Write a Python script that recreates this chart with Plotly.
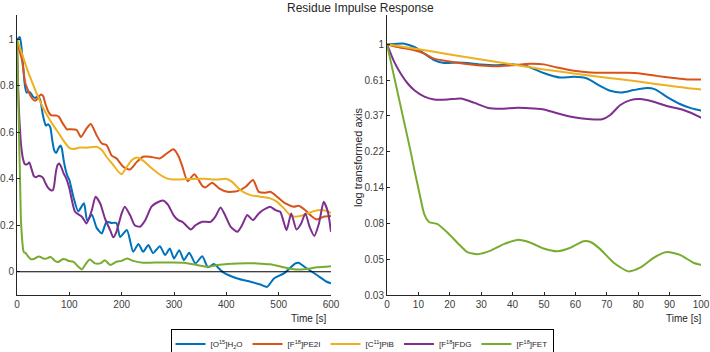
import plotly.graph_objects as go

# ---------------- data (time in s, residue values) ----------------
t_h2o = [0, 2.5, 5.5, 8.7, 11.9, 15, 18.2, 22.4, 25.6, 29.8, 35, 40.4, 44.7, 48.9, 52, 55.2, 59.5, 63.7,
         67.4, 71.1, 74.8, 78.5, 82.8, 85.4, 89.1, 93.3, 97, 100, 108, 117, 128, 134, 143, 152, 162, 171,
         181, 190, 197, 210, 222, 232, 241, 251, 260, 273, 283, 292, 300, 310, 319, 329, 341, 354, 365,
         376, 389, 395, 421, 446, 465, 478, 491, 510, 532, 538, 554, 573, 592, 600]
v_h2o = [1.0, 1.005, 1.01, 0.964, 0.878, 0.803, 0.771, 0.775, 0.771, 0.756, 0.748, 0.756, 0.737, 0.681,
         0.650, 0.629, 0.635, 0.621, 0.566, 0.523, 0.511, 0.528, 0.543, 0.533, 0.481, 0.435, 0.409, 0.396,
         0.32, 0.26, 0.295, 0.22, 0.245, 0.19, 0.165, 0.215, 0.21, 0.21, 0.15, 0.18, 0.086, 0.12, 0.086,
         0.115, 0.08, 0.11, 0.072, 0.10, 0.057, 0.093, 0.05, 0.082, 0.036, 0.067, 0.019, 0.033, 0.007,
         -0.004, -0.029, -0.043, -0.055, -0.065, -0.029, -0.007, 0.036, 0.039, 0.014, -0.014, -0.043, -0.05]

t_pe2i = [0, 4.4, 8.7, 11.9, 15, 19.3, 24.6, 29.8, 35, 40.4, 45.7, 50, 54.2, 59.5, 64.8, 70.1, 76.4, 80.6,
          85.9, 91.2, 95.5, 100, 114, 122, 133, 141, 152, 162, 171, 181, 190, 203, 216, 229, 241, 254, 273,
          286, 299, 308, 315, 326, 339, 354, 360, 373, 386, 402, 421, 437, 451, 462, 475, 484, 497, 513,
          529, 538, 551, 564, 573, 586, 600]
v_pe2i = [1.0, 0.955, 0.920, 0.878, 0.819, 0.790, 0.763, 0.744, 0.736, 0.748, 0.763, 0.756, 0.723, 0.691,
          0.674, 0.672, 0.672, 0.666, 0.644, 0.626, 0.613, 0.613, 0.61, 0.58, 0.617, 0.636, 0.588, 0.552,
          0.545, 0.50, 0.488, 0.452, 0.44, 0.473, 0.495, 0.495, 0.488, 0.509, 0.527, 0.50, 0.46, 0.39,
          0.42, 0.37, 0.363, 0.383, 0.359, 0.344, 0.347, 0.366, 0.395, 0.344, 0.34, 0.344, 0.323, 0.294,
          0.28, 0.284, 0.265, 0.237, 0.225, 0.237, 0.24]

t_pib = [0, 10, 20, 30, 40, 50, 60, 70, 80, 90, 100, 108, 120, 133, 152, 162, 171, 184, 194, 200, 210,
         219, 229, 241, 254, 270, 286, 299, 325, 357, 383, 399, 411, 427, 446, 465, 484, 497, 510, 522,
         532, 548, 567, 586, 600]
v_pib = [1.0, 0.935, 0.868, 0.81, 0.755, 0.705, 0.664, 0.628, 0.595, 0.561, 0.533, 0.528, 0.535, 0.534,
         0.538, 0.524, 0.495, 0.459, 0.43, 0.42, 0.452, 0.48, 0.492, 0.478, 0.452, 0.423, 0.402, 0.397,
         0.399, 0.40, 0.397, 0.40, 0.387, 0.351, 0.33, 0.323, 0.316, 0.301, 0.273, 0.244, 0.237, 0.244,
         0.261, 0.265, 0.254]

t_fdg = [0, 2.3, 4.4, 6.6, 8.7, 11.9, 15, 19.3, 23.5, 27.7, 32, 36.2, 41.5, 46.8, 50, 54.2, 59.5, 64.8,
         68.5, 71.1, 74.3, 77.5, 80.6, 84.9, 89.1, 94.4, 100, 111, 124, 133, 143, 150, 159, 168, 178, 184,
         190, 200, 206, 216, 225, 235, 245, 257, 267, 280, 289, 299, 308, 316, 332, 341, 354, 370, 379,
         389, 399, 408, 421, 430, 440, 451, 462, 472, 484, 494, 503, 515, 524, 534, 543, 551, 559, 568,
         577, 586, 594, 600]
v_fdg = [1.0, 0.783, 0.664, 0.579, 0.527, 0.482, 0.463, 0.463, 0.470, 0.443, 0.413, 0.407, 0.413, 0.409,
         0.403, 0.382, 0.361, 0.351, 0.351, 0.373, 0.429, 0.459, 0.466, 0.449, 0.423, 0.400, 0.36, 0.258,
         0.237, 0.208, 0.265, 0.323, 0.294, 0.23, 0.179, 0.148, 0.172, 0.251, 0.28, 0.244, 0.20, 0.194,
         0.222, 0.28, 0.297, 0.306, 0.287, 0.244, 0.222, 0.215, 0.182, 0.20, 0.215, 0.215, 0.237, 0.277,
         0.237, 0.194, 0.172, 0.20, 0.244, 0.222, 0.251, 0.268, 0.28, 0.265, 0.258, 0.179, 0.251, 0.182,
         0.208, 0.251, 0.194, 0.154, 0.208, 0.301, 0.258, 0.172]

t_fet = [0, 7.4, 8.7, 10.3, 11.9, 13.4, 16.1, 19.3, 22.4, 25.6, 28.8, 33, 37.2, 41.5, 45.7, 49.9, 54.2,
         58.4, 62.6, 64.8, 67.9, 72.2, 76.9, 80.6, 84.9, 89.1, 93.3, 97.6, 100, 108, 117, 124, 130, 139,
         149, 159, 168, 178, 190, 200, 210, 222, 241, 273, 294, 319, 344, 364, 383, 421, 459, 484, 510,
         529, 548, 573, 600]
v_fet = [1.0, 0.230, 0.174, 0.126, 0.093, 0.0837, 0.0813, 0.0721, 0.0627, 0.0550, 0.0534, 0.0561, 0.0614,
         0.0652, 0.0627, 0.0578, 0.0556, 0.0584, 0.0639, 0.0633, 0.0573, 0.0474, 0.0420, 0.0442, 0.0508,
         0.0550, 0.0529, 0.0474, 0.0460, 0.043, 0.022, 0.01, 0.029, 0.053, 0.036, 0.036, 0.05, 0.029,
         0.043, 0.047, 0.057, 0.047, 0.039, 0.04, 0.04, 0.039, 0.029, 0.022, 0.029, 0.036, 0.036, 0.032,
         0.019, 0.011, 0.011, 0.019, 0.024]

series_names = ["[O<sup>15</sup>]H<sub>2</sub>O", "[F<sup>18</sup>]PE2I", "[C<sup>11</sup>]PiB",
                "[F<sup>18</sup>]FDG", "[F<sup>18</sup>]FET"]
series_t = [t_h2o, t_pe2i, t_pib, t_fdg, t_fet]
series_v = [v_h2o, v_pe2i, v_pib, v_fdg, v_fet]
colors = ["#0072BD", "#D95319", "#EDB120", "#7E2F8E", "#77AC30"]

left_yticks = [0, 0.2, 0.4, 0.6, 0.8, 1]
left_xticks = [0, 100, 200, 300, 400, 500, 600]
right_xticks = [0, 10, 20, 30, 40, 50, 60, 70, 80, 90, 100]
right_yticks = [1, 0.6065, 0.3679, 0.2231, 0.1353, 0.0821, 0.0498, 0.0302]
right_yticktext = ["1", "0.61", "0.37", "0.22", "0.14", "0.08", "0.05", "0.03"]

# ---------------- figure ----------------
FONT = "Liberation Sans, Arial, Helvetica, sans-serif"
AX = "#262626"

fig = go.Figure()
for name, t, v, c in zip(series_names, series_t, series_v, colors):
    fig.add_trace(go.Scatter(x=t, y=v, mode="lines", name=name, legendgroup=name,
                             line=dict(color=c, width=2, shape="spline", smoothing=0.6),
                             xaxis="x", yaxis="y"))
for name, t, v, c in zip(series_names, series_t, series_v, colors):
    fig.add_trace(go.Scatter(x=t, y=v, mode="lines", name=name, legendgroup=name, showlegend=False,
                             line=dict(color=c, width=2, shape="spline", smoothing=0.6),
                             xaxis="x2", yaxis="y2"))

ydom = [(352 - 295) / 352, (352 - 15) / 352]
axcommon = dict(showgrid=False, zeroline=False, showline=True, linecolor=AX, linewidth=1,
                ticks="inside", ticklen=3, tickcolor=AX, automargin=False,
                tickfont=dict(family=FONT, size=10, color="#404040"))

fig.update_layout(
    width=710, height=352,
    margin=dict(l=0, r=0, t=0, b=0, autoexpand=False),
    paper_bgcolor="white", plot_bgcolor="white",
    font=dict(family=FONT, size=10, color="#404040"),
    xaxis=dict(domain=[17 / 710, 331 / 710], range=[0, 600], tickvals=left_xticks, anchor="y", **axcommon),
    yaxis=dict(domain=ydom, range=[-0.1, 1.105], tickvals=left_yticks, anchor="x", **axcommon),
    xaxis2=dict(domain=[387 / 710, 701 / 710], range=[0, 100], tickvals=right_xticks, anchor="y2", **axcommon),
    yaxis2=dict(domain=ydom, type="log", range=[-1.52, 0.178], tickvals=right_yticks,
                ticktext=right_yticktext, anchor="x2", **axcommon),
    showlegend=True,
    legend=dict(orientation="h", x=362 / 710, xanchor="center", y=(352 - 344) / 352, yanchor="middle",
                bordercolor="#000000", borderwidth=1, bgcolor="white",
                font=dict(family=FONT, size=8, color="#262626"), itemwidth=30,
                tracegroupgap=0),
)

# zero line in left panel
fig.add_shape(type="line", xref="x", yref="y", x0=0, x1=600, y0=0, y1=0,
              line=dict(color="#000000", width=1))

# title and labels
fig.add_annotation(text="Residue Impulse Response", xref="paper", yref="paper", x=360 / 710,
                   y=(352 - 8) / 352, showarrow=False, xanchor="center", yanchor="middle",
                   font=dict(family=FONT, size=12, color="#262626"))
fig.add_annotation(text="Time [s]", xref="paper", yref="paper", x=308 / 710, y=(352 - 318) / 352,
                   showarrow=False, xanchor="center", yanchor="middle",
                   font=dict(family=FONT, size=10, color="#262626"))
fig.add_annotation(text="Time [s]", xref="paper", yref="paper", x=683 / 710, y=(352 - 318) / 352,
                   showarrow=False, xanchor="center", yanchor="middle",
                   font=dict(family=FONT, size=10, color="#262626"))
fig.add_annotation(text="log transformed axis", xref="paper", yref="paper", x=358 / 710,
                   y=(352 - 157) / 352, showarrow=False, textangle=-90, xanchor="center",
                   yanchor="middle", font=dict(family=FONT, size=11, color="#262626"))

fig.write_html("out.html", config={"displayModeBar": False},
               post_script="document.body.style.margin='0px';")
